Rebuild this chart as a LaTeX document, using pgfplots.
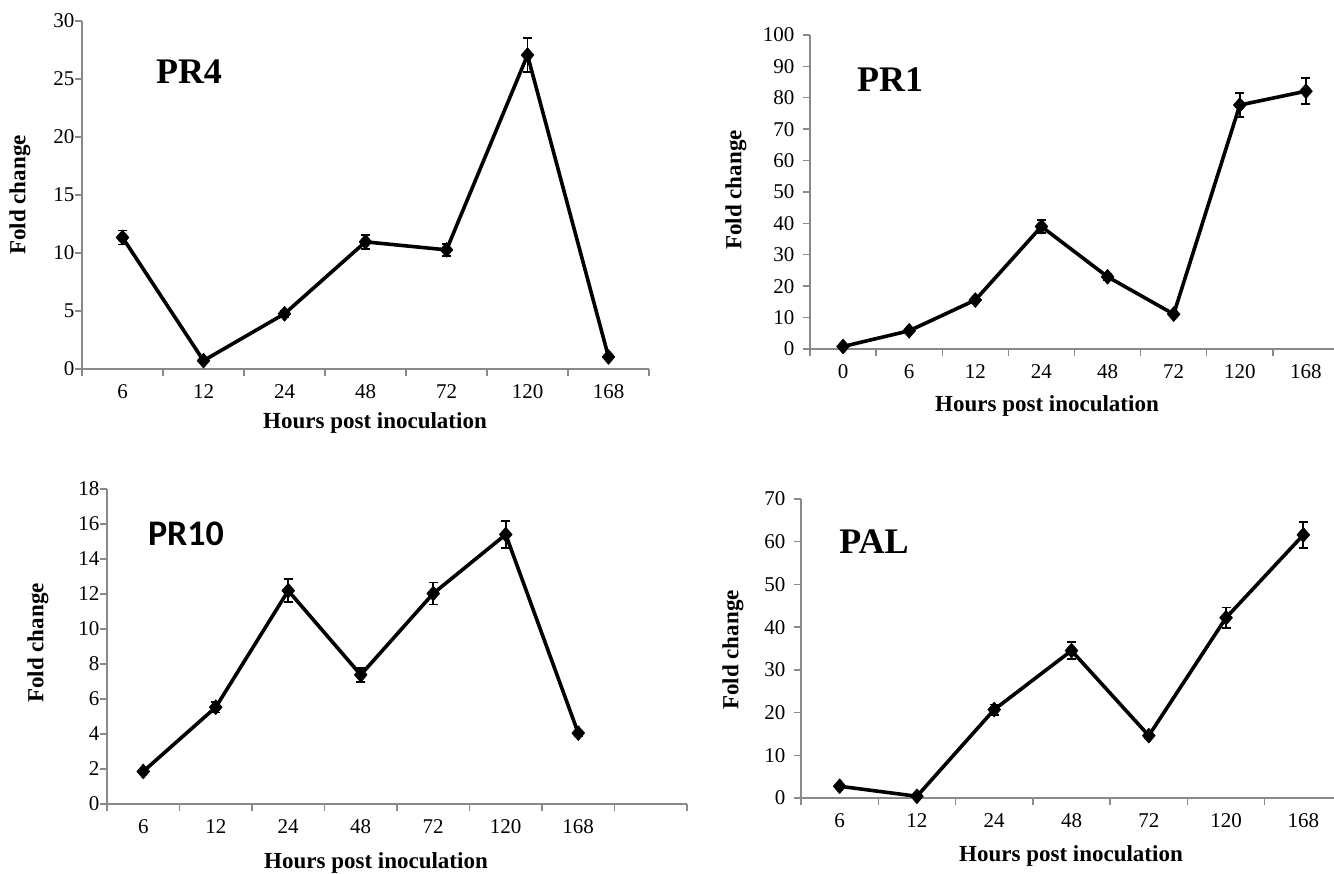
\documentclass[border=0pt]{standalone}
\usepackage{fontspec}
\setmainfont{Liberation Serif}
\newfontfamily\calibri{Carlito}
\usepackage{pgfplots}
\pgfplotsset{compat=1.18}
\definecolor{axgray}{HTML}{8A8A8A}
\pgfplotsset{
  panel/.style={
    scale only axis,
    axis x line*=bottom, axis y line*=left,
    axis line style={-, draw=axgray, line width=1.6pt},
    tick style={draw=axgray, line width=1.4pt},
    tick align=outside,
    major tick length=7pt,
    x tick label as interval,
    enlargelimits=false,
    ymin=0,
    tick label style={font=\fontsize{21}{21}\selectfont, black},
    xticklabel style={yshift=-5pt},
    /pgf/number format/assume math mode=true,
    clip=false,
  },
  series/.style={
    black, line width=3.6pt, line join=round,
    mark=diamond*, mark size=7.5pt, mark options={solid, line width=0.5pt, xscale=1.15},
    error bars/.cd, y dir=both, y explicit,
    error bar style={line width=1.8pt, black},
    error mark options={line width=1.8pt, mark size=4.5pt, black, rotate=90},
  },
}
\begin{document}
\begin{tikzpicture}[x=1pt,y=1pt]
\useasboundingbox (0,0) rectangle (1334,-874);
% PR4
\begin{axis}[panel, at={(82pt,-369pt)}, anchor=south west, width=567pt, height=348pt,
  xmin=0.5, xmax=7.5, xtick={0.5,1.5,...,7.5},
  xticklabels={6,12,24,48,72,120,168},
  yticklabel style={xshift=3pt},
  ymax=30, ytick={0,5,...,30}]
\addplot+[series] coordinates {
 (1,11.34) +- (0,0.6)
 (2,0.72) +- (0,0.2)
 (3,4.76) +- (0,0.25)
 (4,10.96) +- (0,0.6)
 (5,10.27) +- (0,0.5)
 (6,27.06) +- (0,1.45)
 (7,1.04) +- (0,0.1)
};
\end{axis}
% PR1
\begin{axis}[panel, at={(810pt,-349pt)}, anchor=south west, width=529pt, height=314pt,
  xmin=0.5, xmax=8.5, xtick={0.5,1.5,...,8.5},
  xticklabels={0,6,12,24,48,72,120,168},
  yticklabel style={xshift=-5pt},
  ymax=100, ytick={0,10,...,100}]
\addplot+[series] coordinates {
 (1,0.8) +- (0,0.3)
 (2,5.8) +- (0,0.5)
 (3,15.6) +- (0,0.8)
 (4,39.0) +- (0,2.0)
 (5,23.0) +- (0,1.0)
 (6,11.1) +- (0,0.6)
 (7,77.7) +- (0,3.8)
 (8,82.1) +- (0,4.1)
};
\end{axis}
% PR10
\begin{axis}[panel, at={(107pt,-804pt)}, anchor=south west, width=580pt, height=315pt,
  xmin=0.5, xmax=8.5, xtick={0.5,1.5,...,8.5},
  xticklabels={6,12,24,48,72,120,168,{}},
  yticklabel style={xshift=3pt},
  ymax=18, ytick={0,2,...,18}]
\addplot+[series] coordinates {
 (1,1.86) +- (0,0.1)
 (2,5.53) +- (0,0.3)
 (3,12.19) +- (0,0.65)
 (4,7.38) +- (0,0.4)
 (5,12.03) +- (0,0.63)
 (6,15.4) +- (0,0.78)
 (7,4.05) +- (0,0.15)
};
\end{axis}
% PAL
\begin{axis}[panel, at={(801pt,-798pt)}, anchor=south west, width=541pt, height=299pt,
  xmin=0.5, xmax=7.5, xtick={0.5,1.5,...,7.5},
  xticklabels={6,12,24,48,72,120,168},
  yticklabel style={xshift=-5pt},
  ymax=70, ytick={0,10,...,70}]
\addplot+[series] coordinates {
 (1,2.75) +- (0,0.2)
 (2,0.4) +- (0,0.1)
 (3,20.7) +- (0,1.2)
 (4,34.5) +- (0,2.0)
 (5,14.6) +- (0,0.5)
 (6,42.2) +- (0,2.4)
 (7,61.6) +- (0,3.1)
};
\end{axis}
% labels
\tikzset{xl/.style={font=\fontsize{23}{23}\selectfont\bfseries, inner sep=0pt},
         yl/.style={font=\fontsize{23}{23}\selectfont\bfseries, inner sep=0pt, rotate=90},
         tl/.style={font=\fontsize{36}{36}\selectfont\bfseries, inner sep=0pt}}
\node[xl] at (375,-423) {Hours post inoculation};
\node[xl] at (1047,-406) {Hours post inoculation};
\node[xl] at (376,-863) {Hours post inoculation};
\node[xl] at (1071,-856) {Hours post inoculation};
\node[yl] at (20,-195) {Fold change};
\node[yl] at (736,-190) {Fold change};
\node[yl] at (38,-643) {Fold change};
\node[yl] at (733,-650) {Fold change};
\node[tl] at (189,-72) {PR4};
\node[tl] at (890,-80) {PR1};
\node[tl, font=\fontsize{36}{36}\selectfont\calibri\bfseries] at (186,-534) {PR10};
\node[tl] at (874,-542) {PAL};
\end{tikzpicture}
\end{document}
